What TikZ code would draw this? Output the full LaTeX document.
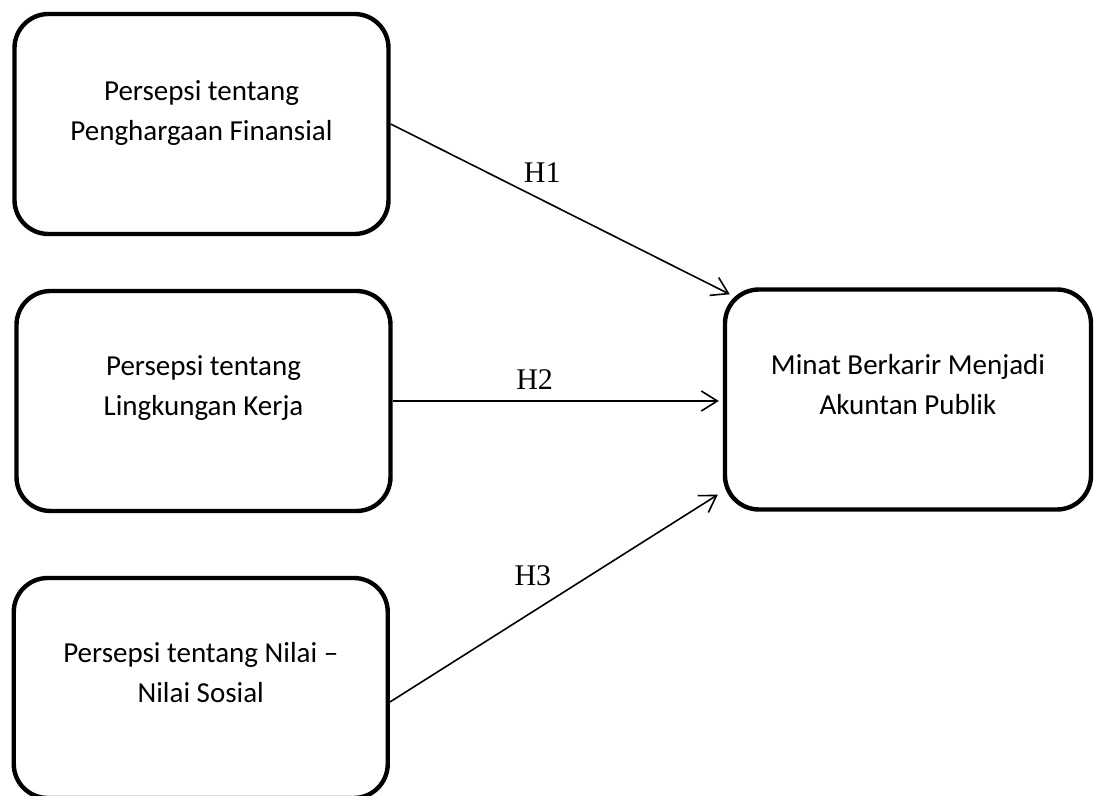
\documentclass[tikz,border=0pt]{standalone}
\usepackage{fontspec}
\setmainfont{Carlito}
\newfontfamily\hypfont{Liberation Serif}
\usetikzlibrary{arrows.meta,positioning}

\tikzset{
  box/.style={draw, line width=2.2pt, rounded corners=17pt, minimum width=187pt, minimum height=110pt, inner sep=0pt},
  txt/.style={align=center, font=\fontsize{14.5}{20}\selectfont, inner sep=0pt},
  hyp/.style={font=\hypfont\fontsize{15}{18}\selectfont, inner sep=0pt},
  link/.style={line width=0.8pt, -{Straight Barb[length=8pt,width=10pt]}}
}

\begin{document}
\begin{tikzpicture}[x=0.5pt,y=-0.5pt]
            \useasboundingbox (0,0) rectangle (1094,796);

            % Boxes
            \node[box] (finansial) at (201.5,124) {};
            \node[box] (kerja) at (203.5,401) {};
            \node[box] (sosial) at (200.75,688) {};
            \node[box,minimum width=183pt] (minat) at (908,399.5) {};

            \node[txt] (finansial-txt) at ([yshift=5.5pt]finansial.center) {Persepsi tentang\\Penghargaan Finansial};
            \node[txt] (kerja-txt) at ([yshift=6.5pt]kerja.center) {Persepsi tentang\\Lingkungan Kerja};
            \node[txt] (sosial-txt) at ([yshift=7.5pt]sosial.center) {Persepsi tentang Nilai --\\Nilai Sosial};
            \node[txt] (minat-txt) at ([yshift=7.5pt]minat.center) {Minat Berkarir Menjadi\\Akuntan Publik};

            % Arrows
            \draw[link] (finansial.east) -- node[hyp, pos=0.447, above=8.5pt] (h1) {H1} ([xshift=3.5pt,yshift=-3.5pt]minat.north west);
            \draw[link, shorten >=2pt] (kerja.east) -- node[hyp, pos=0.43, above=5.5pt] (h2) {H2} (kerja.east -| minat.west);
            \draw[link] ([yshift=-7pt]sosial.east) -- node[hyp, pos=0.436, above=12.5pt] (h3) {H3} ([xshift=-2.5pt,yshift=8.5pt]minat.south west);
    \end{tikzpicture}
\end{document}
